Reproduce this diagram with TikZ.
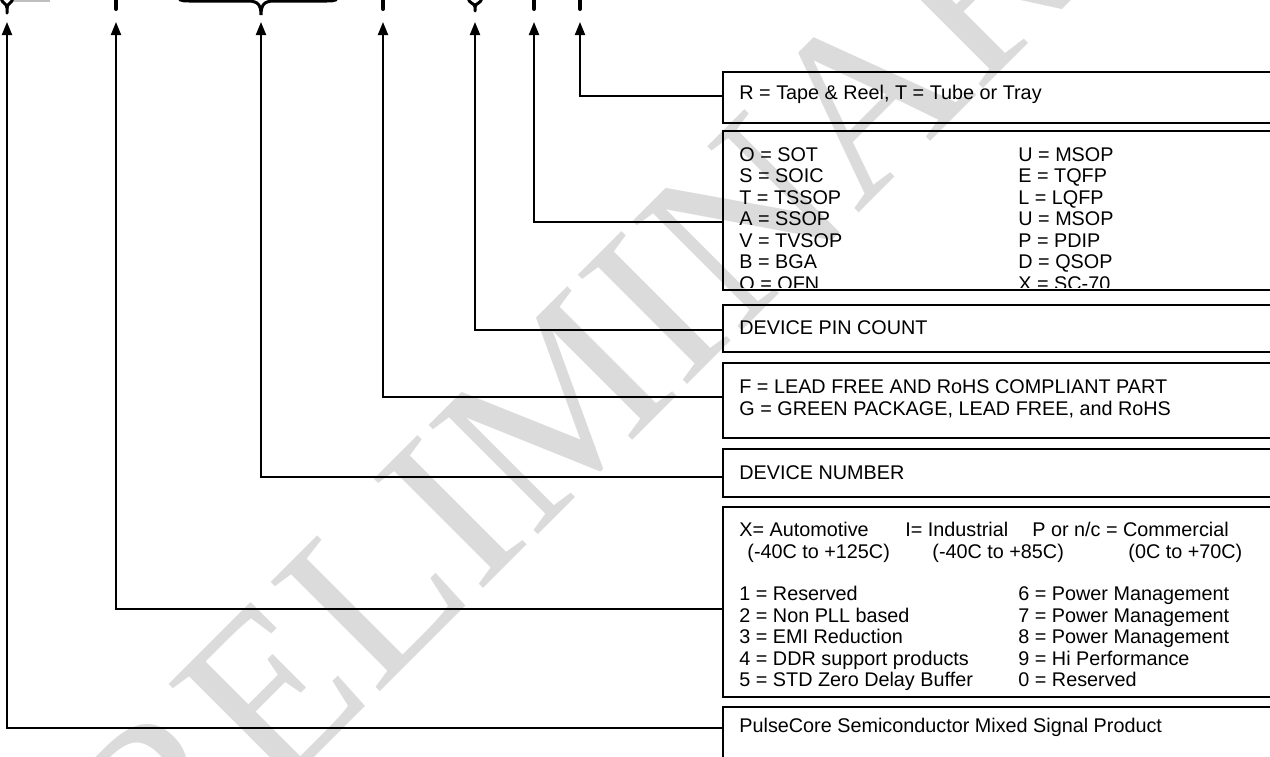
\documentclass[tikz,border=0pt]{standalone}
\usepackage{fontspec}
\setmainfont{Liberation Sans}
\newfontfamily\wmfont{Liberation Serif}
\usetikzlibrary{arrows.meta,fit}
\begin{document}
\begin{tikzpicture}[x=0.5pt,y=-0.5pt,
  box/.style={draw=black,line width=1.2pt,inner sep=0pt},
  conn/.style={draw=black,line width=1pt,-{Triangle[length=6.5pt,width=5pt]}},
  lbl/.style={anchor=base west,inner sep=0pt,font=\fontsize{9.9}{10.6}\selectfont},
  drop/.style={line width=2pt,line cap=round},
  brc/.style={line width=1.5pt,line cap=round}]
\useasboundingbox (0,0) rectangle (1270,756);
% watermark
\node[rotate=45,text=black!14,font=\wmfont\fontsize{118}{118}\selectfont,inner sep=0pt] (wm) at (580,382) {PRELIMINARY};
% top marks (bottoms of the part-number braces)
\draw[gray!50,line width=1pt] (13,0.5) -- (50,0.5);
\draw[brc] (1,-2) .. controls (2,4) and (7,3) .. (7,8) -- (7,13);
\draw[brc] (13,-2) .. controls (12,4) and (7,3) .. (7,8);
\draw[drop] (116,-3) -- (116,9);
\draw[brc] (178,-8) .. controls (178,1) and (180,1) .. (190,1) -- (248,1) .. controls (258,1) and (261,5) .. (261,15)
           .. controls (261,5) and (264,1) .. (274,1) -- (326,1) .. controls (336,1) and (338,1) .. (338,-8);
\draw[drop] (383,-3) -- (383,9);
\draw[brc] (468,-2) .. controls (469,4) and (475,3) .. (475,7) -- (475,11);
\draw[brc] (482,-2) .. controls (481,4) and (475,3) .. (475,7);
\draw[drop] (534,-3) -- (534,9);
\draw[drop] (580,-3) -- (580,9);
% boxes
\node[box,fit={(723,72)(1285,123)}] (b1) {};
\node[box,fit={(723,131)(1285,290)}] (b2) {};
\node[box,fit={(723,305)(1285,352)}] (b3) {};
\node[box,fit={(723,363)(1285,438)}] (b4) {};
\node[box,fit={(723,449)(1285,497)}] (b5) {};
\node[box,fit={(723,507)(1285,697)}] (b6) {};
\node[box,fit={(723,707)(1285,790)}] (b7) {};
% arrow tips and junctions
\foreach \n/\x/\y in {1/580/96,2/534/222,3/475/330,4/383/397,5/261/477,6/116/609,7/7/728}{
  \coordinate (t\n) at (\x,22);
  \coordinate (j\n) at (723,\y);
}
\foreach \n in {1,...,7}{\draw[conn] (j\n) -| (t\n);}
% box 1
\node[lbl] (r1) at (739,99) {R = Tape \& Reel, T = Tube or Tray};
% box 2
\begin{scope}
\clip (724,132) rectangle (1280,287.5);
\foreach \i/\a/\b in {0/O = SOT/U = MSOP,1/S = SOIC/E = TQFP,2/T = TSSOP/L = LQFP,3/A = SSOP/U = MSOP,4/V = TVSOP/P = PDIP,5/B = BGA/D = QSOP,6/Q = QFN/X = SC-70}{
  \node[lbl] (pa\i) at (739,161+21.5*\i) {\a};
  \node[lbl] (pb\i) at (1018,161+21.5*\i) {\b};
}
\end{scope}
% box 3
\node[lbl] (pc) at (739,334.5) {DEVICE PIN COUNT};
% box 4
\node[lbl] (f1) at (739,393.5) {F = LEAD FREE AND RoHS COMPLIANT PART};
\node[lbl] (f2) at (739,415) {G = GREEN PACKAGE, LEAD FREE, and RoHS};
% box 5
\node[lbl] (dn) at (739,479.5) {DEVICE NUMBER};
% box 6
\node[lbl] (g1) at (739,536.5) {X= Automotive};
\node[lbl] (g2) at (905,536.5) {I= Industrial};
\node[lbl] (g3) at (1032,536.5) {P or n/c = Commercial};
\node[lbl] (h1) at (747,558) {(-40C to +125C)};
\node[lbl] (h2) at (932,558) {(-40C to +85C)};
\node[lbl] (h3) at (1128,558) {(0C to +70C)};
\foreach \i/\a/\b in {0/1 = Reserved/6 = Power Management,1/2 = Non PLL based/7 = Power Management,2/3 = EMI Reduction/8 = Power Management,3/4 = DDR support products/9 = Hi Performance,4/5 = STD Zero Delay Buffer/0 = Reserved}{
  \node[lbl] (ca\i) at (739,600.5+21.5*\i) {\a};
  \node[lbl] (cb\i) at (1018,600.5+21.5*\i) {\b};
}
% box 7
\node[lbl] (pp) at (739,732.5) {PulseCore Semiconductor Mixed Signal Product};
\end{tikzpicture}
\end{document}
